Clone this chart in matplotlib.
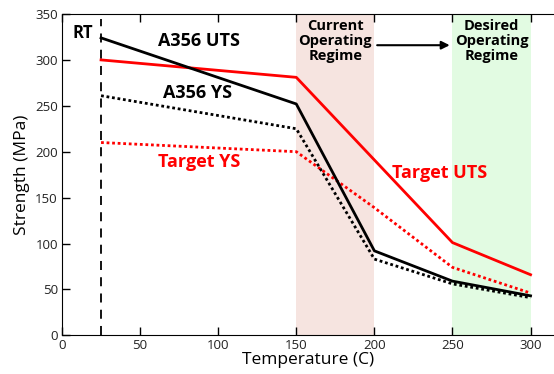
import matplotlib
matplotlib.use("Agg")
import matplotlib.pyplot as plt

temps = [25, 150, 200, 250, 300]
a356_uts = [324, 252, 92, 59, 43]
a356_ys = [261, 225, 83, 56, 41]
target_uts = [300, 281, 191, 101, 66]
target_ys = [210, 200, 139, 74, 46]
x_ticks = [0, 50, 100, 150, 200, 250, 300]
y_ticks = [0, 50, 100, 150, 200, 250, 300, 350]
current_regime = (150, 200)
desired_regime = (250, 300)
rt_temp = 25

plt.rcParams['font.family'] = ['Open Sans', 'DejaVu Sans']

fig = plt.figure(figsize=(5.54, 3.74), dpi=100)
ax = fig.add_axes([62/554, 1 - 335.3/374, 1 - 62/554, (335.3 - 14)/374])

ax.axvspan(*current_regime, color='#f6e4e0', lw=0, zorder=0)
ax.axvspan(*desired_regime, color='#e2fbe2', lw=0, zorder=0)

ax.plot([rt_temp, rt_temp], [0, 345], color='black', lw=1.3, ls=(0, (5, 4)))

ax.plot(temps, target_ys, color='red', lw=2, ls=(0, (1, 1)))
ax.plot(temps, a356_ys, color='black', lw=2, ls=(0, (1, 1)))
ax.plot(temps, target_uts, color='red', lw=2)
ax.plot(temps, a356_uts, color='black', lw=2)

ax.set_xlim(0, 315)
ax.set_ylim(0, 350)
ax.set_xticks(x_ticks)
ax.set_yticks(y_ticks)
ax.tick_params(direction='in', top=True, right=False, length=6, labelsize=9.5, width=1, pad=3,
               labelcolor='#222222')
ax.spines['right'].set_visible(False)
ax.set_xlabel('Temperature (C)', fontsize=12.5, labelpad=0)
ax.set_ylabel('Strength (MPa)', fontsize=12.5, labelpad=4)

ax.text(7, 329, 'RT', fontsize=12, fontweight='bold', ha='left', va='center')
ax.text(88, 321, 'A356 UTS', fontsize=13, fontweight='bold', ha='center', va='center')
ax.text(87, 264, 'A356 YS', fontsize=13, fontweight='bold', ha='center', va='center')
ax.text(88, 189, 'Target YS', fontsize=13, fontweight='bold', ha='center', va='center', color='red')
ax.text(242, 177, 'Target UTS', fontsize=13, fontweight='bold', ha='center', va='center', color='red')
ax.text(175, 321, 'Current\nOperating\nRegime', fontsize=10.5, fontweight='bold', ha='center', va='center', linespacing=1.1)
ax.text(275, 321, 'Desired\nOperating\nRegime', fontsize=10.5, fontweight='bold', ha='center', va='center', linespacing=1.1)
ax.annotate('', xy=(250, 316), xytext=(200, 316),
            arrowprops=dict(arrowstyle='-|>', color='black', lw=1.5, mutation_scale=12))

fig.savefig('out.png', dpi=100)
